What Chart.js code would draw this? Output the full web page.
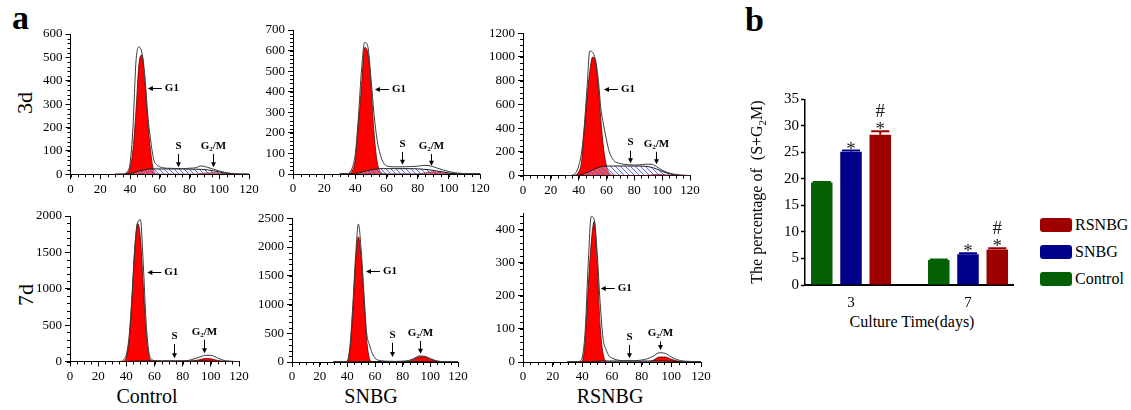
<!DOCTYPE html>
<html>
<head>
<meta charset="utf-8">
<script src="https://cdn.jsdelivr.net/npm/chart.js@4.4.1/dist/chart.umd.min.js"></script>
<style>
  body { margin: 0; background: #fff; width: 1131px; height: 410px; overflow: hidden; position: relative;
         font-family: "Liberation Serif", "DejaVu Serif", serif; color: #000; }
  canvas { position: absolute; }
  .txt { position: absolute; white-space: nowrap; line-height: 1; font-family: "Liberation Serif", serif; }
  .panel { font-weight: bold; font-size: 34px; }
  .col { font-size: 20px; width: 160px; text-align: center; }
  .row { font-size: 22px; width: 60px; text-align: center; transform: rotate(-90deg); }
  .key { position: absolute; left: 1040px; font-size: 16px; line-height: 14px; height: 14px; white-space: nowrap;
         font-family: "Liberation Serif", serif; }
  .key span { display: inline-block; width: 32px; height: 14px; border-radius: 3px; vertical-align: top; margin-right: 3px; }
</style>
</head>
<body>
<div class="txt panel" style="left:12px;top:1px">a</div>
<div class="txt panel" style="left:745px;top:3px">b</div>

<div class="txt row" style="left:-5px;top:92px">3d</div>
<div class="txt row" style="left:-4px;top:284px">7d</div>
<div class="txt col" style="left:67px;top:386px">Control</div>
<div class="txt col" style="left:291px;top:386px">SNBG</div>
<div class="txt col" style="left:530px;top:386px">RSNBG</div>

<canvas id="h1"></canvas>
<canvas id="h2"></canvas>
<canvas id="h3"></canvas>
<canvas id="h4"></canvas>
<canvas id="h5"></canvas>
<canvas id="h6"></canvas>
<canvas id="bars"></canvas>

<div class="txt" style="font-size:16px;width:220px;text-align:center;left:647px;top:184px;transform:rotate(-90deg)">The percentage of&nbsp; (S+G<sub style="font-size:11px;line-height:0">2</sub>M)</div>
<div class="txt" style="font-size:16px;width:200px;text-align:center;left:812px;top:314px">Culture Time(days)</div>

<div class="key" style="top:218px"><span style="background:#9e0000"></span>RSNBG</div>
<div class="key" style="top:245px"><span style="background:#00008b"></span>SNBG</div>
<div class="key" style="top:272px"><span style="background:#046004"></span>Control</div>

<script>
// ---- DNA content channels shared by all histograms ----
const channel = [30, 34, 36, 38, 40, 42, 44, 46, 48, 50, 52, 54, 56, 58, 60, 62, 65, 70, 75, 80, 84, 88, 92, 96, 100, 104, 108, 112, 116, 120];

// Control, 3 days
const ctl3Raw = [0, 0, 2, 10, 45, 200, 480, 545, 520, 420, 250, 140, 62, 40, 32, 28, 26, 25, 24, 26, 28, 36, 30, 22, 14, 8, 4, 2, 1, 0];
const ctl3G1 = [0, 0, 0, 5, 27, 106, 270, 470, 510, 390, 220, 90, 15, 2, 0, 0, 0, 0, 0, 0, 0, 0, 0, 0, 0, 0, 0, 0, 0, 0];
const ctl3S = [0, 0, 0, 1, 3, 6, 10, 14, 17, 20, 22, 23, 23, 23, 23, 23, 23, 23, 23, 22, 22, 21, 19, 15, 10, 5, 2, 0, 0, 0];
const ctl3G2 = [0, 0, 0, 0, 0, 0, 0, 0, 0, 0, 0, 0, 0, 0, 0, 0, 0, 0, 0, 0, 0, 3, 6, 7, 5, 2, 0, 0, 0, 0];

// SNBG, 3 days
const snb3Raw = [0, 0, 5, 30, 100, 280, 510, 640, 620, 470, 290, 165, 95, 55, 40, 36, 35, 35, 36, 38, 42, 40, 30, 20, 12, 6, 3, 1, 0, 0];
const snb3G1 = [0, 0, 2, 15, 70, 240, 430, 615, 590, 430, 200, 60, 12, 2, 0, 0, 0, 0, 0, 0, 0, 0, 0, 0, 0, 0, 0, 0, 0, 0];
const snb3S = [0, 0, 0, 0, 2, 5, 9, 13, 17, 20, 23, 25, 26, 26, 26, 26, 26, 26, 26, 25, 23, 20, 15, 10, 5, 2, 0, 0, 0, 0];
const snb3G2 = [0, 0, 0, 0, 0, 0, 0, 0, 0, 0, 0, 0, 0, 0, 0, 0, 0, 0, 0, 0, 4, 10, 10, 6, 2, 0, 0, 0, 0, 0];

// RSNBG, 3 days
const rsn3Raw = [0, 0, 5, 25, 80, 190, 410, 740, 1050, 1040, 980, 820, 560, 420, 300, 200, 130, 100, 92, 88, 90, 95, 95, 75, 45, 25, 12, 5, 2, 0];
const rsn3G1 = [0, 0, 0, 5, 30, 110, 380, 660, 880, 1000, 960, 760, 460, 220, 80, 20, 2, 0, 0, 0, 0, 0, 0, 0, 0, 0, 0, 0, 0, 0];
const rsn3S = [0, 0, 0, 0, 3, 8, 15, 25, 35, 47, 58, 67, 74, 78, 80, 80, 80, 80, 80, 80, 80, 78, 70, 55, 35, 18, 7, 2, 0, 0];
const rsn3G2 = [0, 0, 0, 0, 0, 0, 0, 0, 0, 0, 0, 0, 0, 0, 0, 0, 0, 0, 0, 0, 0, 0, 5, 10, 8, 3, 0, 0, 0, 0];

// Control, 7 days
const ctl7Raw = [0, 0, 2, 20, 100, 350, 900, 1560, 1910, 1950, 1350, 550, 130, 30, 12, 8, 5, 5, 5, 8, 15, 35, 60, 85, 85, 55, 22, 8, 2, 0];
const ctl7G1 = [0, 0, 0, 5, 60, 300, 850, 1550, 1900, 1700, 1050, 400, 80, 10, 0, 0, 0, 0, 0, 0, 0, 0, 0, 0, 0, 0, 0, 0, 0, 0];
const ctl7S = [0, 0, 0, 0, 0, 1, 3, 5, 6, 7, 8, 9, 9, 9, 9, 9, 9, 9, 9, 9, 9, 9, 9, 8, 6, 3, 1, 0, 0, 0];
const ctl7G2 = [0, 0, 0, 0, 0, 0, 0, 0, 0, 0, 0, 0, 0, 0, 0, 0, 0, 0, 0, 0, 0, 8, 25, 42, 38, 18, 5, 0, 0, 0];

// SNBG, 7 days
const snb7Raw = [0, 0, 0, 5, 20, 300, 1000, 1850, 2400, 1950, 1200, 500, 300, 150, 70, 35, 20, 12, 10, 15, 25, 60, 105, 100, 60, 25, 8, 3, 0, 0];
const snb7G1 = [0, 0, 0, 0, 5, 250, 900, 1750, 2180, 1800, 1080, 380, 60, 5, 0, 0, 0, 0, 0, 0, 0, 0, 0, 0, 0, 0, 0, 0, 0, 0];
const snb7S = [0, 0, 0, 0, 0, 0, 0, 2, 3, 5, 6, 7, 8, 8, 9, 9, 9, 9, 9, 9, 9, 9, 8, 6, 4, 2, 0, 0, 0, 0];
const snb7G2 = [0, 0, 0, 0, 0, 0, 0, 0, 0, 0, 0, 0, 0, 0, 0, 0, 0, 0, 0, 0, 10, 45, 90, 88, 50, 15, 2, 0, 0, 0];

// RSNBG, 7 days
const rsn7Raw = [0, 0, 0, 2, 15, 100, 300, 440, 430, 330, 180, 70, 38, 18, 12, 8, 5, 4, 4, 6, 10, 18, 28, 26, 15, 7, 3, 2, 1, 0];
const rsn7G1 = [0, 0, 0, 0, 3, 70, 230, 360, 425, 300, 110, 25, 3, 0, 0, 0, 0, 0, 0, 0, 0, 0, 0, 0, 0, 0, 0, 0, 0, 0];
const rsn7S = [0, 0, 0, 0, 0, 0, 0, 1, 2, 2, 3, 3, 3, 3, 3, 3, 3, 3, 3, 3, 3, 3, 3, 3, 2, 1, 0, 0, 0, 0];
const rsn7G2 = [0, 0, 0, 0, 0, 0, 0, 0, 0, 0, 0, 0, 0, 0, 0, 0, 0, 0, 0, 0, 0, 6, 15, 15, 8, 3, 0, 0, 0, 0];

// ---- panel b: (S+G2M) percentage ----
const days = [3, 7];
const controlPct = [19.3, 4.7];
const snbgPct = [25.1, 5.8];
const rsnbgPct = [28.3, 6.7];
const controlErr = [0.1, 0.1];
const snbgErr = [0.25, 0.2];
const rsnbgErr = [0.7, 0.25];
const controlSig = ["", ""];
const snbgSig = ["*", "*"];
const rsnbgSig = ["*#", "*#"];

const serif = '"Liberation Serif", "DejaVu Serif", serif';

function makeHatch() {
  const tile = document.createElement("canvas");
  tile.width = 5;
  tile.height = 5;
  const c = tile.getContext("2d");
  c.fillStyle = "rgba(225,230,255,0.35)";
  c.fillRect(0, 0, 5, 5);
  c.strokeStyle = "rgba(70,80,210,0.8)";
  c.lineWidth = 1;
  c.beginPath();
  c.moveTo(-1, -1);
  c.lineTo(6, 6);
  c.stroke();
  return c.createPattern(tile, "repeat");
}
const hatch = makeHatch();

const minorTicks = {
  id: "minorTicks",
  afterDraw(chart, args, opts) {
    const { ctx, scales: { x, y } } = chart;
    ctx.save();
    ctx.strokeStyle = "#000";
    ctx.lineWidth = 1;
    ctx.beginPath();
    for (let v = 0; v <= x.max; v += opts.x) {
      const px = Math.round(x.getPixelForValue(v)) + 0.5;
      ctx.moveTo(px, y.bottom);
      ctx.lineTo(px, y.bottom + 3);
    }
    for (let v = 0; v <= y.max; v += opts.y) {
      const py = Math.round(y.getPixelForValue(v)) + 0.5;
      ctx.moveTo(x.left - 3, py);
      ctx.lineTo(x.left, py);
    }
    ctx.stroke();
    ctx.restore();
  },
};

function arrowHead(ctx, x, y, dir) {
  ctx.beginPath();
  if (dir === "left") {
    ctx.moveTo(x, y);
    ctx.lineTo(x + 5, y - 2.5);
    ctx.lineTo(x + 5, y + 2.5);
  } else {
    ctx.moveTo(x, y);
    ctx.lineTo(x - 2.5, y - 5);
    ctx.lineTo(x + 2.5, y - 5);
  }
  ctx.closePath();
  ctx.fill();
}

const phaseMarks = {
  id: "phaseMarks",
  afterDatasetsDraw(chart, args, opts) {
    const { ctx, scales: { x, y } } = chart;
    ctx.save();
    ctx.fillStyle = "#000";
    ctx.strokeStyle = "#000";
    ctx.lineWidth = 1;
    ctx.textBaseline = "middle";

    // G1 arrow pointing at the peak
    const gx = x.getPixelForValue(opts.g1[0]);
    const gy = Math.round(y.getPixelForValue(opts.g1[1])) + 0.5;
    ctx.beginPath();
    ctx.moveTo(gx + 3, gy);
    ctx.lineTo(gx + 14, gy);
    ctx.stroke();
    arrowHead(ctx, gx, gy, "left");
    ctx.font = "bold 11px " + serif;
    ctx.textAlign = "left";
    ctx.fillText("G1", gx + 17, gy);

    // S and G2/M arrows pointing down
    [["S", opts.s], ["G2M", opts.g2]].forEach(([name, spot]) => {
      const cx = Math.round(x.getPixelForValue(spot[0])) + 0.5;
      const ty = y.getPixelForValue(spot[1]);
      const tip = y.getPixelForValue(spot[2]);
      if (name === "S") {
        ctx.font = "bold 11px " + serif;
        ctx.textAlign = "center";
        ctx.fillText("S", cx, ty);
      } else {
        ctx.textAlign = "left";
        ctx.font = "bold 11px " + serif;
        const wG = ctx.measureText("G").width;
        const wM = ctx.measureText("/M").width;
        ctx.font = "bold 7px " + serif;
        const w2 = ctx.measureText("2").width;
        let sx = cx - (wG + w2 + wM) / 2;
        ctx.font = "bold 11px " + serif;
        ctx.fillText("G", sx, ty);
        ctx.font = "bold 7px " + serif;
        ctx.fillText("2", sx + wG, ty + 3);
        ctx.font = "bold 11px " + serif;
        ctx.fillText("/M", sx + wG + w2, ty);
      }
      ctx.beginPath();
      ctx.moveTo(cx, ty + 8);
      ctx.lineTo(cx, tip - 3);
      ctx.stroke();
      arrowHead(ctx, cx, tip, "down");
    });
    ctx.restore();
  },
};

function makeHist(id, box, parts, yMax, yStep, yMinor, spots) {
  const cv = document.getElementById(id);
  const cl = Math.floor(box.left) - 50;
  const ct = Math.floor(box.top) - 14;
  const cw = Math.ceil(box.right) + 18 - cl;
  const ch = Math.ceil(box.bottom) + 28 - ct;
  cv.width = cw;
  cv.height = ch;
  cv.style.left = cl + "px";
  cv.style.top = ct + "px";

  const pts = (arr) => channel.map((c, i) => ({ x: c, y: arr[i] }));
  const curve = { pointRadius: 0, cubicInterpolationMode: "monotone", fill: "origin" };
  const tickFont = { family: serif, size: 13 };

  return new Chart(cv, {
    type: "line",
    data: {
      datasets: [
        { ...curve, data: pts(parts.raw), fill: false, borderColor: "#3a3a3a", borderWidth: 1, order: 0 },
        { ...curve, data: pts(parts.s), backgroundColor: hatch, borderColor: "#1a1a1a", borderWidth: 1, order: 1 },
        { ...curve, data: pts(parts.g2), backgroundColor: "#ff0000", borderColor: "#5a0000", borderWidth: 0.8, order: 2 },
        { ...curve, data: pts(parts.g1), backgroundColor: "#ff0000", borderColor: "#5a0000", borderWidth: 0.8, order: 3 },
      ],
    },
    options: {
      responsive: false,
      animation: false,
      layout: { padding: { top: box.top - ct, right: cl + cw - box.right, left: 0, bottom: 0 } },
      plugins: {
        legend: { display: false },
        tooltip: { enabled: false },
        minorTicks: { x: 5, y: yMinor },
        phaseMarks: spots,
      },
      scales: {
        x: {
          type: "linear",
          min: 0,
          max: 120,
          afterFit: (s) => { s.height = ch - (box.bottom - ct); },
          ticks: { stepSize: 20, maxRotation: 0, autoSkip: false, color: "#000", font: tickFont, padding: 2, callback: (v) => String(v) },
          grid: { display: true, drawOnChartArea: false, tickLength: 5, color: "#000" },
          border: { color: "#000", width: 1 },
        },
        y: {
          min: 0,
          max: yMax,
          afterFit: (s) => { s.width = box.left - cl; },
          afterBuildTicks: (s) => { s.ticks = s.ticks.filter((t) => t.value % yStep === 0); },
          ticks: { stepSize: yStep, color: "#000", font: tickFont, padding: 3, callback: (v) => String(v) },
          grid: { display: true, drawOnChartArea: false, tickLength: 5, color: "#000" },
          border: { color: "#000", width: 1 },
        },
      },
    },
    plugins: [minorTicks, phaseMarks],
  });
}

makeHist("h1", { left: 70.5, right: 249, top: 34, bottom: 174.3 },
  { raw: ctl3Raw, g1: ctl3G1, s: ctl3S, g2: ctl3G2 }, 600, 100, 20,
  { g1: [52, 368], s: [72, 121, 30], g2: [95.5, 121, 30] });
makeHist("h2", { left: 293, right: 480, top: 30, bottom: 174 },
  { raw: snb3Raw, g1: snb3G1, s: snb3S, g2: snb3G2 }, 700, 100, 20,
  { g1: [52.6, 412], s: [69.7, 146, 45], g2: [88.3, 136, 40] });
makeHist("h3", { left: 523, right: 690, top: 33.3, bottom: 175.5 },
  { raw: rsn3Raw, g1: rsn3G1, s: rsn3S, g2: rsn3G2 }, 1200, 200, 50,
  { g1: [58.2, 728], s: [77, 278, 104], g2: [95.3, 267, 95] });
makeHist("h4", { left: 70, right: 239, top: 216, bottom: 361.5 },
  { raw: ctl7Raw, g1: ctl7G1, s: ctl7S, g2: ctl7G2 }, 2000, 500, 100,
  { g1: [54.9, 1230], s: [74, 349, 43], g2: [95.2, 409, 112] });
makeHist("h5", { left: 292, right: 458, top: 218.3, bottom: 362 },
  { raw: snb7Raw, g1: snb7G1, s: snb7S, g2: snb7G2 }, 2500, 500, 100,
  { g1: [53.5, 1591], s: [72, 475, 87], g2: [92.5, 503, 145] });
makeHist("h6", { left: 523, right: 701, top: 213, bottom: 362 },
  { raw: rsn7Raw, g1: rsn7G1, s: rsn7S, g2: rsn7G2 }, 450, 100, 20,
  { g1: [52.4, 222], s: [71.7, 76, 11], g2: [92.4, 86, 36] });

// ---- bar chart (panel b) ----
const barExtras = {
  id: "barExtras",
  afterDatasetsDraw(chart) {
    const { ctx, scales: { y } } = chart;
    ctx.save();
    chart.data.datasets.forEach((ds, di) => {
      chart.getDatasetMeta(di).data.forEach((bar, i) => {
        const ty = y.getPixelForValue(ds.data[i].y + ds.errs[i]);
        ctx.strokeStyle = ds.backgroundColor;
        ctx.lineWidth = 2;
        ctx.beginPath();
        ctx.moveTo(bar.x, bar.y);
        ctx.lineTo(bar.x, ty);
        ctx.moveTo(bar.x - bar.width * 0.42, ty);
        ctx.lineTo(bar.x + bar.width * 0.42, ty);
        ctx.stroke();

        ctx.fillStyle = "#222";
        ctx.textAlign = "center";
        ctx.textBaseline = "alphabetic";
        ctx.font = "19px " + serif;
        const marks = ds.sig[i];
        if (marks.includes("*")) ctx.fillText("*", bar.x, ty + 4);
        if (marks.includes("#")) ctx.fillText("#", bar.x, ty - 14);
      });
    });
    ctx.restore();
  },
};

(function () {
  const cv = document.getElementById("bars");
  const area = { left: 805, right: 1013, top: 99.3, bottom: 285 };
  const cl = 750, ct = 85, cw = 280, ch = 227;
  cv.width = cw;
  cv.height = ch;
  cv.style.left = cl + "px";
  cv.style.top = ct + "px";
  const tickFont = { family: serif, size: 15 };
  const barOpts = { categoryPercentage: 0.75, barPercentage: 0.736, borderWidth: 0 };
  const pts = (arr) => days.map((d, i) => ({ x: d, y: arr[i] }));

  new Chart(cv, {
    type: "bar",
    data: {
      datasets: [
        { ...barOpts, label: "Control", data: pts(controlPct), backgroundColor: "#046004", errs: controlErr, sig: controlSig },
        { ...barOpts, label: "SNBG", data: pts(snbgPct), backgroundColor: "#00008b", errs: snbgErr, sig: snbgSig },
        { ...barOpts, label: "RSNBG", data: pts(rsnbgPct), backgroundColor: "#9e0000", errs: rsnbgErr, sig: rsnbgSig },
      ],
    },
    options: {
      responsive: false,
      animation: false,
      layout: { padding: { top: area.top - ct, right: cl + cw - area.right, left: 0, bottom: 0 } },
      plugins: { legend: { display: false }, tooltip: { enabled: false } },
      scales: {
        x: {
          type: "linear",
          min: 1.427,
          max: 8.538,
          offset: false,
          afterFit: (s) => { s.height = ch - (area.bottom - ct); },
          afterBuildTicks: (s) => { s.ticks = days.map((v) => ({ value: v })); },
          ticks: { color: "#000", font: tickFont, padding: 9, maxRotation: 0, autoSkip: false, callback: (v) => String(v) },
          grid: { display: false, drawTicks: false, offset: false },
          border: { color: "#000", width: 2 },
        },
        y: {
          min: 0,
          max: 35,
          afterFit: (s) => { s.width = area.left - cl; },
          ticks: { stepSize: 5, color: "#000", font: tickFont, padding: 2 },
          grid: { display: true, drawOnChartArea: false, tickLength: 4, color: "#000", tickWidth: 1.5 },
          border: { color: "#000", width: 1.5 },
        },
      },
    },
    plugins: [barExtras],
  });
})();
</script>
</body>
</html>
